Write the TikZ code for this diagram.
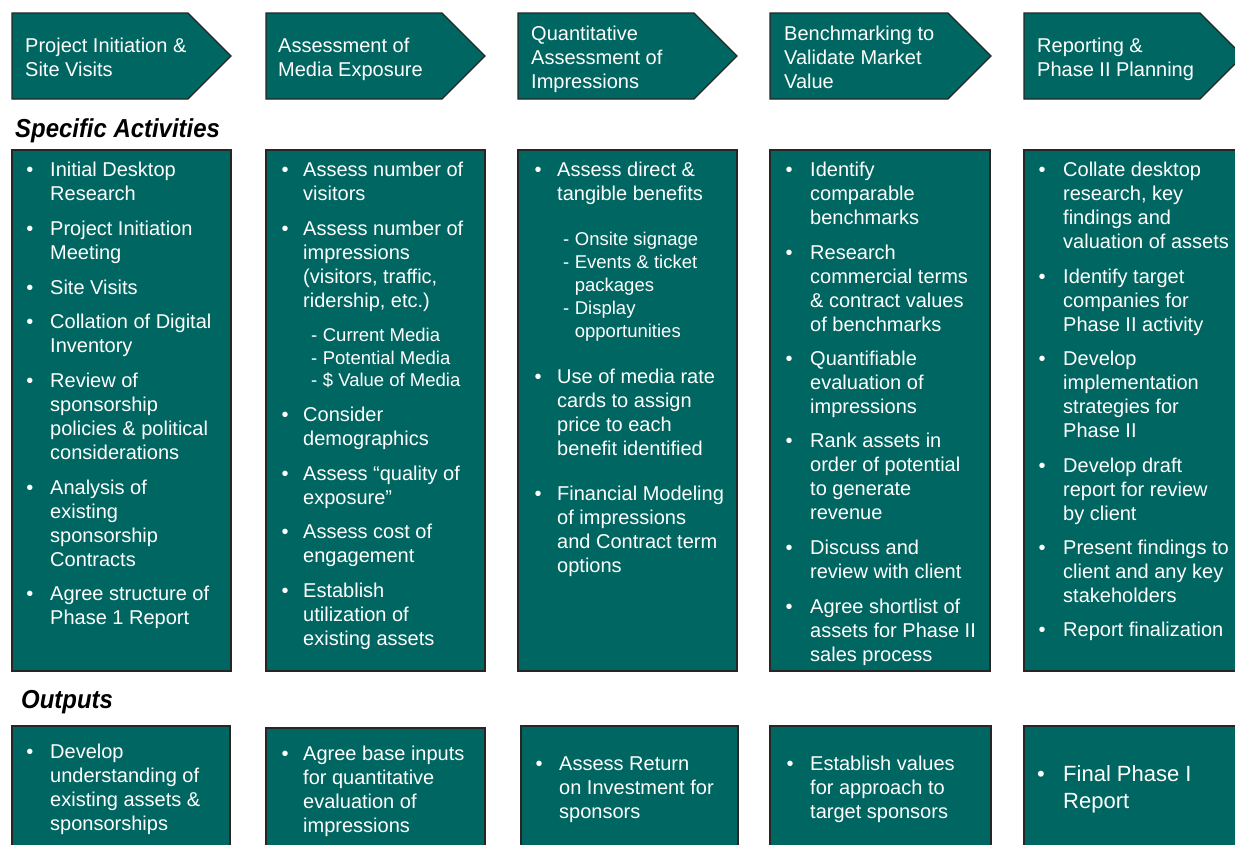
\documentclass[tikz,border=0pt]{standalone}
\usepackage{fontspec}
\setmainfont{Liberation Sans}
\usepackage{graphicx}
\definecolor{tealbox}{HTML}{006661}
\tikzset{
  box/.style={draw=black!85, line width=1.3pt, fill=tealbox},
  wt/.style={text=white, inner sep=0pt, anchor=base west, font=\fontsize{20}{24}\selectfont},
  bul/.style={text=white, inner sep=0pt, anchor=base, font=\fontsize{20}{24}\selectfont},
  subt/.style={text=white, inner sep=0pt, anchor=base west, font=\fontsize{18.5}{22.5}\selectfont},
  big/.style={text=white, inner sep=0pt, anchor=base west, font=\fontsize{22}{27}\selectfont},
  bigbul/.style={text=white, inner sep=0pt, anchor=base, font=\fontsize{22}{27}\selectfont},
  hd/.style={inner sep=0pt, anchor=base west, font=\fontsize{26}{30}\selectfont\bfseries\itshape},
}
\newcommand\itm[5]{%
  \node[bul] (#1-b) at (#2,#4) {•};
  \node[wt] (#1) at (#3,#4) {\parbox[t]{300pt}{#5}};}
\begin{document}
\begin{tikzpicture}[x=1pt,y=-1pt]
\useasboundingbox (0,0) rectangle (1235,844);
\clip (0,0) rectangle (1235,844);
\fill[white] (0,0) rectangle (1235,844);

% phase chevrons
\draw[box] (12,13) -- (188,13) -- (231,56) -- (188,99) -- (12,99) -- cycle;
\draw[box] (266,13) -- (442,13) -- (485,56) -- (442,99) -- (266,99) -- cycle;
\draw[box] (518,13) -- (694,13) -- (737,56) -- (694,99) -- (518,99) -- cycle;
\draw[box] (770,13) -- (948,13) -- (991,56) -- (948,99) -- (770,99) -- cycle;
\draw[box] (1024,13) -- (1200,13) -- (1243,56) -- (1200,99) -- (1024,99) -- cycle;

\node[wt] (p1) at (25,52) {\parbox[t]{200pt}{Project Initiation \&\\Site Visits}};
\node[wt] (p2) at (278,52) {\parbox[t]{200pt}{Assessment of\\Media Exposure}};
\node[wt] (p3) at (531,40) {\parbox[t]{200pt}{Quantitative\\Assessment of\\Impressions}};
\node[wt] (p4) at (784,40) {\parbox[t]{200pt}{Benchmarking to\\Validate Market\\Value}};
\node[wt] (p5) at (1037,52) {\parbox[t]{200pt}{Reporting \&\\Phase II Planning}};

% headings
\node[hd] (hsa) at (15,137) {\scalebox{0.92}[1]{Specific Activities}};
\node[hd] (hout) at (21,708) {\scalebox{0.92}[1]{Outputs}};

% activity boxes
\draw[box] (12,150) rectangle (231,671);
\draw[box] (266,150) rectangle (485,671);
\draw[box] (518,150) rectangle (737,671);
\draw[box] (770,150) rectangle (990,671);
\draw[box] (1024,150) rectangle (1260,671);

% output boxes
\draw[box] (12,726) rectangle (230,860);
\draw[box] (266,728) rectangle (485,860);
\draw[box] (521,726) rectangle (738,860);
\draw[box] (770,726) rectangle (991,860);
\draw[box] (1024,726) rectangle (1260,860);

% column 1
\itm{a1}{30}{50}{176}{Initial Desktop\\Research}
\itm{a2}{30}{50}{235}{Project Initiation\\Meeting}
\itm{a3}{30}{50}{294}{Site Visits}
\itm{a4}{30}{50}{328}{Collation of Digital\\Inventory}
\itm{a5}{30}{50}{387}{Review of\\sponsorship\\policies \& political\\considerations}
\itm{a6}{30}{50}{494}{Analysis of\\existing\\sponsorship\\Contracts}
\itm{a7}{30}{50}{600}{Agree structure of\\Phase 1 Report}

% column 2
\itm{b1}{285}{303}{176}{Assess number of\\visitors}
\itm{b2}{285}{303}{235}{Assess number of\\impressions\\(visitors, traffic,\\ridership, etc.)}
\node[subt] (b2s) at (311,341.5) {\begin{tabular}[t]{@{}l@{\hspace{5.5pt}}l@{}}-&Current Media\\-&Potential Media\\-&\$ Value of Media\end{tabular}};
\itm{b3}{285}{303}{421}{Consider\\demographics}
\itm{b4}{285}{303}{480}{Assess “quality of\\exposure”}
\itm{b5}{285}{303}{538}{Assess cost of\\engagement}
\itm{b6}{285}{303}{597}{Establish\\utilization of\\existing assets}

% column 3
\itm{c1}{538}{557}{176}{Assess direct \&\\tangible benefits}
\node[subt, font=\fontsize{18.5}{23.2}\selectfont] (c1s) at (563,245) {\begin{tabular}[t]{@{}l@{\hspace{5.5pt}}l@{}}-&Onsite signage\\-&Events \& ticket\\&packages\\-&Display\\&opportunities\end{tabular}};
\itm{c2}{538}{557}{383}{Use of media rate\\cards to assign\\price to each\\benefit identified}
\itm{c3}{538}{557}{500}{Financial Modeling\\of impressions\\and Contract term\\options}

% column 4
\itm{d1}{789}{810}{176}{Identify\\comparable\\benchmarks}
\itm{d2}{789}{810}{259}{Research\\commercial terms\\\& contract values\\of benchmarks}
\itm{d3}{789}{810}{365}{Quantifiable\\evaluation of\\impressions}
\itm{d4}{789}{810}{447}{Rank assets in\\order of potential\\to generate\\revenue}
\itm{d5}{789}{810}{554}{Discuss and\\review with client}
\itm{d6}{789}{810}{613}{Agree shortlist of\\assets for Phase II\\sales process}

% column 5
\itm{e1}{1042}{1063}{176}{Collate desktop\\research, key\\findings and\\valuation of assets}
\itm{e2}{1042}{1063}{283}{Identify target\\companies for\\Phase II activity}
\itm{e3}{1042}{1063}{365}{Develop\\implementation\\strategies for\\Phase II}
\itm{e4}{1042}{1063}{472}{Develop draft\\report for review\\by client}
\itm{e5}{1042}{1063}{554}{Present findings to\\client and any key\\stakeholders}
\itm{e6}{1042}{1063}{636}{Report finalization}

% outputs
\itm{o1}{30}{50}{758}{Develop\\understanding of\\existing assets \&\\sponsorships}
\itm{o2}{285}{303}{760}{Agree base inputs\\for quantitative\\evaluation of\\impressions}
\itm{o3}{539}{559}{770}{Assess Return\\on Investment for\\sponsors}
\itm{o4}{790}{810}{770}{Establish values\\for approach to\\target sponsors}
\node[bigbul] (o5-b) at (1041,781) {•};
\node[big] (o5) at (1063,781) {\parbox[t]{200pt}{Final Phase I\\Report}};
\end{tikzpicture}
\end{document}
